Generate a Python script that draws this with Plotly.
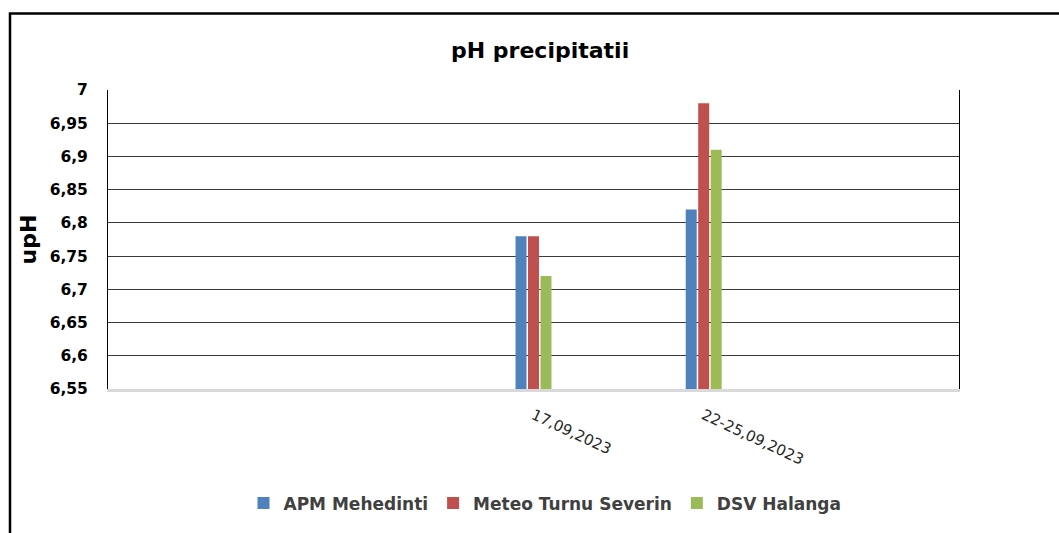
import plotly.graph_objects as go

categories = ["", "", "17,09,2023", "22-25,09,2023", ""]
apm_mehedinti = [None, None, 6.78, 6.82, None]
meteo_turnu_severin = [None, None, 6.78, 6.98, None]
dsv_halanga = [None, None, 6.72, 6.91, None]

series_names = ["APM Mehedinti", "Meteo Turnu Severin", "DSV Halanga"]
series_colors = ["#4F81BD", "#C0504D", "#9BBB59"]
series_values = [apm_mehedinti, meteo_turnu_severin, dsv_halanga]

x_pos = list(range(len(categories)))

fig = go.Figure()
for name, color, vals in zip(series_names, series_colors, series_values):
    fig.add_trace(go.Bar(x=x_pos, y=vals, name=name, marker=dict(color=color, line=dict(width=0))))

W, H = 1059, 533
L, R, T, B = 108, 100, 90, 140
pw = W - L - R
ph = H - T - B

def px_x(p):
    return (p - L) / pw

def px_y(p):
    return (H - B - p) / ph

fig.update_layout(
    width=W, height=H,
    margin=dict(l=L, r=R, t=T, b=B),
    paper_bgcolor="white", plot_bgcolor="white",
    separators=",.",
    barmode="group", bargap=0.78, bargroupgap=0.12,
    font=dict(family="DejaVu Sans", color="#000000"),
    title=dict(text="<b>pH precipitatii</b>", x=0.51, xanchor="center", y=1 - 50 / H, yanchor="middle",
               font=dict(family="DejaVu Sans", size=22, color="#000000")),
    xaxis=dict(range=[-0.5, len(categories) - 0.5], tickvals=x_pos, ticktext=categories,
               tickangle=25, showgrid=False, zeroline=False,
               showline=True, linecolor="#D9D9D9", linewidth=3,
               ticks="", ticklabelstandoff=9,
               tickfont=dict(family="DejaVu Sans", size=15, color="#262626")),
    yaxis=dict(range=[6.55, 7], dtick=0.05, tick0=6.55,
               showgrid=True, gridcolor="#3A3A3A", gridwidth=1.2,
               zeroline=False, showline=True, linecolor="#000000", linewidth=1, mirror=True,
               ticks="", ticklabelstandoff=16,
               tickfont=dict(family="DejaVu Sans", size=15.5, color="#000000", weight="bold"),
               title=dict(text="<b>upH</b>", standoff=6,
                          font=dict(family="DejaVu Sans", size=22, color="#000000"))),
    legend=dict(orientation="h", x=px_x(545), xanchor="center", y=px_y(509), yanchor="middle",
                font=dict(family="DejaVu Sans", size=17, color="#404040", weight="bold"),
                bgcolor="rgba(0,0,0,0)"),
    shapes=[dict(type="rect", xref="paper", yref="paper",
                 x0=px_x(10), x1=px_x(1075), y0=px_y(560), y1=px_y(12.5),
                 line=dict(color="#000000", width=2.5), fillcolor="rgba(0,0,0,0)", layer="above")],
)

fig.write_html("out.html", config={"displayModeBar": False},
               post_script="document.body.style.margin='0';document.body.style.overflow='hidden';")
